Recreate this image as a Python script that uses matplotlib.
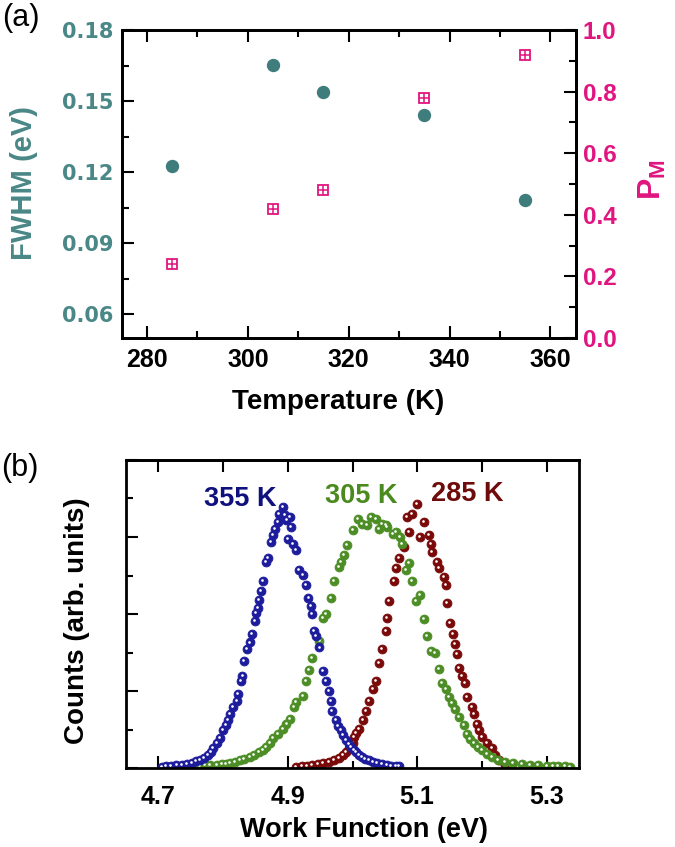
import matplotlib
matplotlib.use("Agg")
import matplotlib.pyplot as plt
from matplotlib.ticker import MultipleLocator, FormatStrFormatter
from matplotlib.transforms import offset_copy

plt.rcParams['font.family'] = ['Liberation Sans', 'DejaVu Sans']

# === (a) FWHM and P_M vs temperature ===
temps = [285, 305, 315, 335, 355]
fwhm = [0.1224, 0.1653, 0.1537, 0.1440, 0.1083]
p_m = [0.24, 0.42, 0.48, 0.78, 0.92]

# === (b) work function distributions ===
wf_355 = [(4.705, 0.03), (4.712, 0.04), (4.720, 0.05), (4.728, 0.07), (4.736, 0.09),
          (4.744, 0.11), (4.752, 0.14), (4.758, 0.17), (4.764, 0.22), (4.770, 0.27),
          (4.777, 0.33), (4.782, 0.42), (4.785, 0.51), (4.790, 0.64), (4.795, 0.77),
          (4.800, 0.98), (4.805, 1.12), (4.808, 1.24), (4.810, 1.41), (4.815, 1.58),
          (4.821, 1.75), (4.823, 1.93), (4.828, 2.27), (4.830, 2.40), (4.833, 2.78),
          (4.837, 3.08), (4.841, 3.26), (4.844, 3.47), (4.849, 3.81), (4.851, 4.03),
          (4.854, 4.16), (4.856, 4.37), (4.859, 4.59), (4.862, 4.85), (4.867, 5.36),
          (4.869, 5.45), (4.874, 5.88), (4.877, 6.05), (4.880, 6.22), (4.885, 6.39),
          (4.887, 6.61), (4.892, 6.78), (4.895, 6.56), (4.898, 6.44), (4.900, 5.96),
          (4.903, 6.52), (4.905, 6.26), (4.908, 5.83), (4.913, 5.66), (4.918, 5.15),
          (4.923, 5.02), (4.928, 4.76), (4.932, 4.42), (4.936, 4.20), (4.938, 3.99),
          (4.941, 3.56), (4.944, 3.43), (4.949, 3.13), (4.954, 2.53), (4.959, 2.27),
          (4.964, 2.01), (4.967, 1.75), (4.969, 1.49), (4.974, 1.24), (4.978, 1.10),
          (4.982, 0.98), (4.986, 0.85), (4.990, 0.72), (4.994, 0.62), (4.998, 0.55),
          (5.002, 0.47), (5.005, 0.42), (5.010, 0.35), (5.015, 0.29), (5.020, 0.24),
          (5.025, 0.20), (5.031, 0.16), (5.038, 0.13), (5.046, 0.10), (5.053, 0.08),
          (5.060, 0.06), (5.067, 0.05), (5.072, 0.04)]

wf_305 = [(4.723, 0.03), (4.732, 0.03), (4.740, 0.04), (4.748, 0.04), (4.756, 0.05),
          (4.764, 0.06), (4.772, 0.07), (4.780, 0.08), (4.790, 0.09), (4.798, 0.10),
          (4.805, 0.11), (4.810, 0.12), (4.818, 0.16), (4.826, 0.21), (4.833, 0.24),
          (4.841, 0.29), (4.848, 0.35), (4.856, 0.42), (4.862, 0.48), (4.867, 0.55),
          (4.872, 0.66), (4.877, 0.77), (4.885, 0.89), (4.892, 1.02), (4.898, 1.15),
          (4.903, 1.28), (4.910, 1.58), (4.913, 1.71), (4.923, 1.88), (4.928, 2.27),
          (4.933, 2.55), (4.938, 2.87), (4.949, 3.30), (4.954, 3.90), (4.959, 3.99),
          (4.967, 4.42), (4.972, 4.85), (4.979, 5.23), (4.982, 5.36), (4.987, 5.53),
          (4.992, 5.79), (5.000, 6.18), (5.008, 6.48), (5.015, 6.35), (5.023, 6.30),
          (5.028, 6.52), (5.036, 6.48), (5.041, 6.22), (5.046, 6.35), (5.051, 6.30),
          (5.054, 6.26), (5.062, 6.09), (5.067, 6.13), (5.074, 6.00), (5.077, 5.83),
          (5.082, 5.15), (5.087, 5.32), (5.092, 4.85), (5.098, 4.33), (5.105, 4.50),
          (5.110, 3.86), (5.115, 3.43), (5.121, 3.04), (5.128, 3.00), (5.133, 2.57),
          (5.138, 2.22), (5.144, 2.05), (5.149, 1.84), (5.154, 1.68), (5.159, 1.54),
          (5.164, 1.32), (5.172, 1.11), (5.177, 0.89), (5.182, 0.76), (5.187, 0.64),
          (5.194, 0.55), (5.200, 0.46), (5.208, 0.37), (5.215, 0.29), (5.225, 0.22),
          (5.236, 0.16), (5.248, 0.12), (5.262, 0.10), (5.275, 0.08), (5.287, 0.07),
          (5.300, 0.06), (5.310, 0.05), (5.318, 0.05), (5.328, 0.04), (5.336, 0.03)]

wf_285 = [(4.913, 0.03), (4.922, 0.04), (4.930, 0.06), (4.938, 0.08), (4.946, 0.10),
          (4.955, 0.13), (4.964, 0.16), (4.972, 0.21), (4.979, 0.27), (4.985, 0.33),
          (4.990, 0.42), (4.995, 0.51), (5.000, 0.66), (5.003, 0.81), (5.006, 0.92),
          (5.010, 1.02), (5.016, 1.25), (5.021, 1.49), (5.026, 1.75), (5.031, 2.05),
          (5.036, 2.27), (5.041, 2.74), (5.046, 3.08), (5.051, 3.56), (5.054, 3.90),
          (5.056, 4.33), (5.064, 4.85), (5.067, 5.19), (5.072, 5.45), (5.079, 5.75),
          (5.087, 6.13), (5.084, 6.52), (5.092, 6.61), (5.100, 6.86), (5.110, 6.39),
          (5.105, 6.00), (5.118, 6.05), (5.121, 5.83), (5.123, 5.62), (5.131, 5.36),
          (5.133, 5.19), (5.141, 4.97), (5.144, 4.76), (5.146, 4.29), (5.151, 3.77),
          (5.156, 3.47), (5.159, 3.21), (5.162, 2.96), (5.164, 2.61), (5.169, 2.40),
          (5.174, 2.22), (5.177, 1.84), (5.185, 1.58), (5.187, 1.41), (5.192, 1.15),
          (5.196, 0.98), (5.200, 0.81), (5.208, 0.64), (5.215, 0.51), (5.220, 0.35),
          (5.226, 0.21), (5.236, 0.08), (5.245, 0.04)]

curve_labels = ['355 K', '305 K', '285 K']
label_pos = [(4.770, 6.98), (4.957, 7.06), (5.121, 7.12)]

teal = '#3f7c7c'
teal_txt = '#4a8787'
magenta = '#e0157f'
colors = ['#1c1c9c', '#4c8e25', '#7a0a0a']
text_colors = ['#10107e', '#4a8a1e', '#6e0b0b']

W, H = 675, 847
fig = plt.figure(figsize=(W / 100, H / 100), dpi=100)


def fx(px):
    return px / W


def fy(py):
    return 1 - py / H


# === Panel (a) ===
ax1 = fig.add_axes([fx(121.7), fy(338), 454 / W, 308 / H])
ax2 = ax1.twinx()

ax1.plot(temps, fwhm, 'o', color=teal, ms=8.6, mec=teal, zorder=3)
ax2.plot(temps, p_m, 's', mfc='none', mec=magenta, ms=7.3, mew=1.3)
ax2.plot(temps, p_m, '+', color=magenta, ms=7.3, mew=1.1)

ax1.set_xlim(275, 365)
ax1.set_ylim(0.05, 0.18)
ax2.set_ylim(0.0, 1.0)

ax1.xaxis.set_major_locator(MultipleLocator(20))
ax1.xaxis.set_minor_locator(MultipleLocator(10))
ax1.yaxis.set_major_locator(MultipleLocator(0.03))
ax1.yaxis.set_minor_locator(MultipleLocator(0.015))
ax1.yaxis.set_major_formatter(FormatStrFormatter('%.2f'))
ax2.yaxis.set_major_locator(MultipleLocator(0.2))
ax2.yaxis.set_minor_locator(MultipleLocator(0.1))
ax2.yaxis.set_major_formatter(FormatStrFormatter('%.1f'))

ax1.tick_params(which='both', direction='in', top=True, right=False, width=1.5)
ax1.tick_params(which='major', length=8.5)
ax1.tick_params(which='minor', length=5)
ax1.tick_params(axis='x', pad=7)
ax1.tick_params(axis='y', pad=6, labelcolor=teal_txt)
ax2.tick_params(which='both', direction='in', width=1.5, labelcolor=magenta, pad=5)
ax2.tick_params(which='major', length=8.5)
ax2.tick_params(which='minor', length=5)

for lab in ax1.get_xticklabels():
    lab.set_fontsize(18)
    lab.set_fontweight('bold')
for lab in ax1.get_yticklabels():
    lab.set_fontsize(15)
    lab.set_fontweight('bold')
    lab.set_family('DejaVu Sans')
for lab in ax2.get_yticklabels():
    lab.set_fontsize(17.5)
    lab.set_fontweight('bold')

for ax in (ax1, ax2):
    for sp in ax.spines.values():
        sp.set_linewidth(2)

# === Panel (b) ===
ax3 = fig.add_axes([fx(126), fy(768), 453 / W, 308 / H])
for data, col in zip([wf_285, wf_305, wf_355], [colors[2], colors[1], colors[0]]):
    e = [p[0] for p in data]
    c = [p[1] for p in data]
    ax3.plot(e, c, 'o', ls='none', ms=6.4, color=col, mec=col, mew=0.6)
    hl = offset_copy(ax3.transData, fig=fig, x=-0.7, y=0.7, units='points')
    ax3.plot(e, c, 'o', ls='none', ms=1.9, color='white', mew=0, transform=hl)

for txt, (x, y), col in zip(curve_labels, label_pos, text_colors):
    ax3.text(x, y, txt, color=col, fontsize=19.5, fontweight='bold', ha='left', va='center')

ax3.set_xlim(4.65, 5.35)
ax3.set_ylim(0, 8)
ax3.set_xticks([4.7, 4.9, 5.1, 5.3])
ax3.set_xticks([4.8, 5.0, 5.2], minor=True)
ax3.set_yticks([0, 2, 4, 6, 8])
ax3.set_yticks([1, 3, 5, 7], minor=True)
ax3.xaxis.set_major_formatter(FormatStrFormatter('%.1f'))
ax3.tick_params(which='both', direction='in', width=1.5, labelleft=False, top=False, right=False)
ax3.tick_params(which='major', length=8.5)
ax3.tick_params(which='minor', length=5)
ax3.tick_params(axis='x', pad=12)
for lab in ax3.get_xticklabels():
    lab.set_fontsize(18)
    lab.set_fontweight('bold')
sec = ax3.secondary_xaxis('top')
sec.set_xticks([4.7, 4.8, 4.9, 5.0, 5.1, 5.2, 5.3])
sec.tick_params(direction='in', length=8.5, width=1.5, labeltop=False)
sec.spines['top'].set_linewidth(2)
for sp in ax3.spines.values():
    sp.set_linewidth(2)

# === Labels ===
fig.text(fx(21), fy(18), '(a)', fontsize=22, ha='center', va='center')
fig.text(fx(20), fy(468), '(b)', fontsize=22, ha='center', va='center')
fig.text(fx(24), fy(183), 'FWHM (eV)', color=teal_txt, fontsize=21, fontweight='bold',
         rotation=90, ha='center', va='center')
fig.text(fx(652), fy(180), r'P$_\mathregular{M}$', color=magenta, fontsize=23, fontweight='bold',
         rotation=90, ha='center', va='center')
fig.text(fx(338), fy(402), 'Temperature (K)', fontsize=20, fontweight='bold', ha='center', va='center')
fig.text(fx(77), fy(621), 'Counts (arb. units)', fontsize=20, fontweight='bold',
         rotation=90, ha='center', va='center')
fig.text(fx(364), fy(830), 'Work Function (eV)', fontsize=19.5, fontweight='bold', ha='center', va='center')

fig.savefig('out.png', dpi=100)
